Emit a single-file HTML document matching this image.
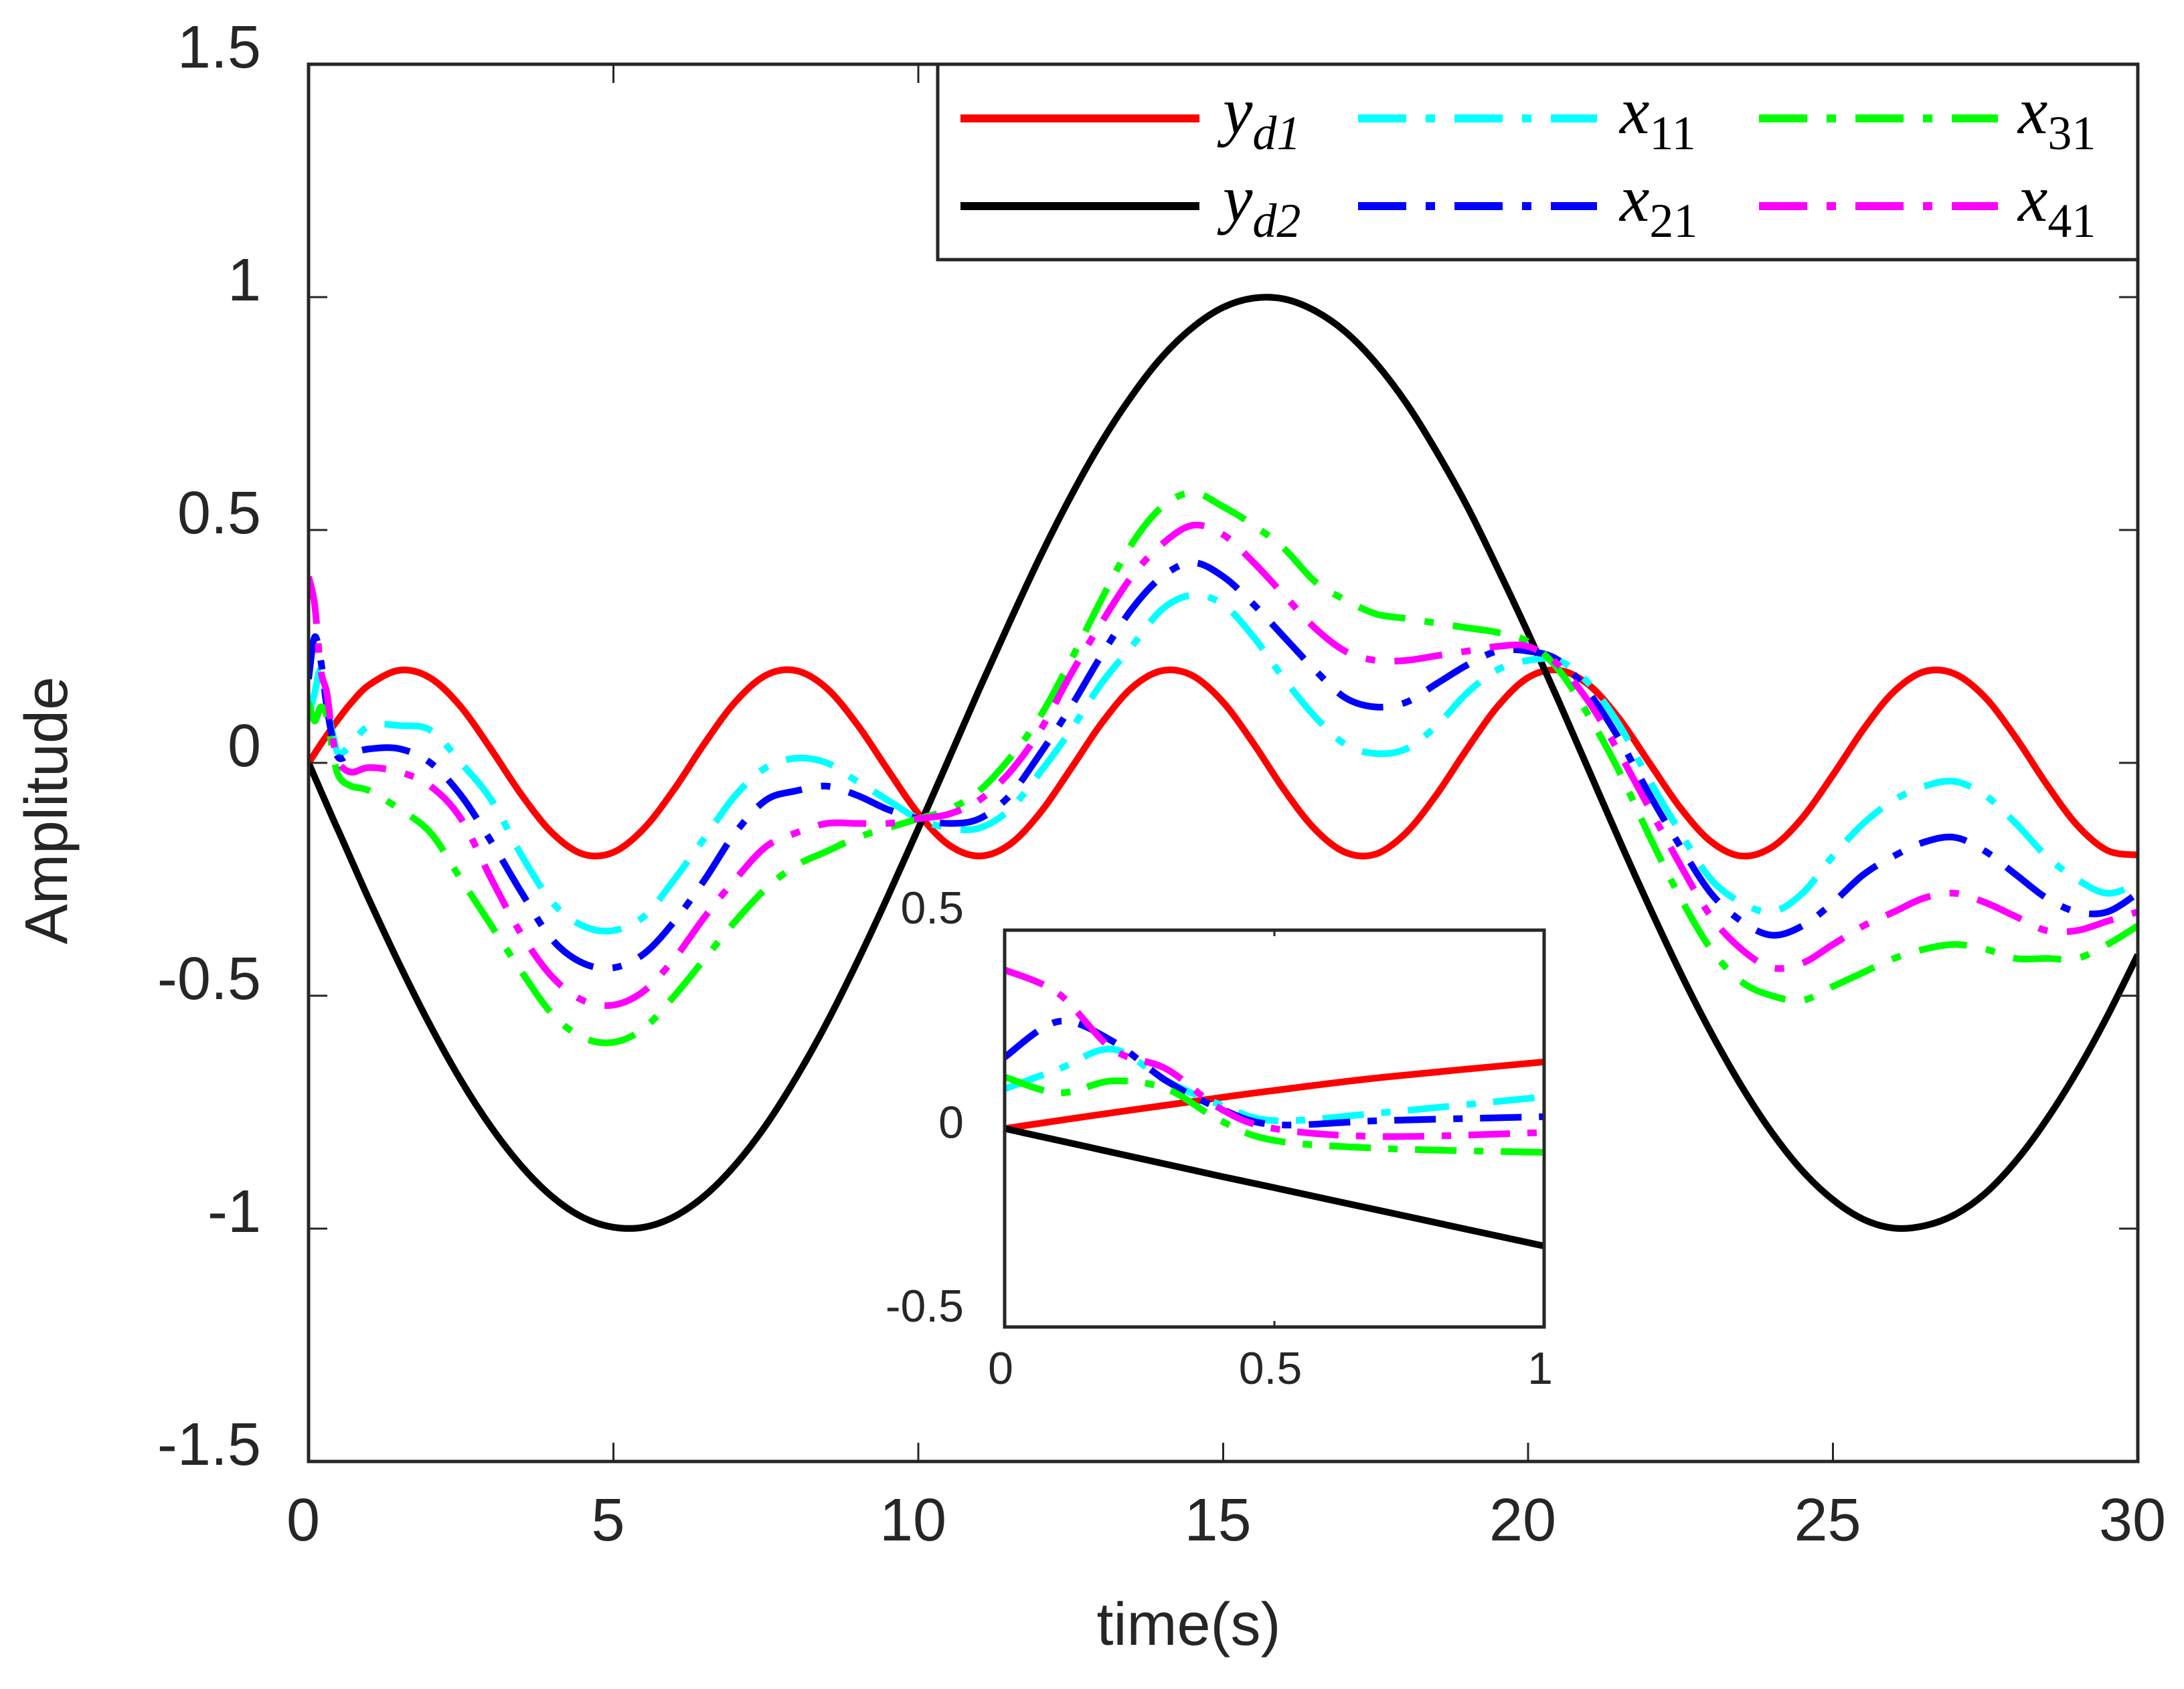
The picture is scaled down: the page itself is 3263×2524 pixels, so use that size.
<!DOCTYPE html>
<html><head><meta charset="utf-8"><style>
html,body{margin:0;padding:0;background:#fff;}
svg{display:block;}
text{font-family:"Liberation Sans",sans-serif;fill:#262626;}
.math{font-family:"Liberation Serif",serif;font-style:italic;fill:#000;}
.sub{font-family:"Liberation Serif",serif;font-style:normal;fill:#000;}
</style></head><body>
<svg id="chart" width="3263" height="2524" viewBox="0 0 3263 2524">
<defs>
<clipPath id="mainClip"><rect x="461" y="96" width="2733" height="2088"/></clipPath>
<clipPath id="insetClip"><rect x="1501" y="1390" width="806" height="593"/></clipPath>
</defs>
<g id="mainAxes"></g>
<g id="inset"></g>
<g id="legend"></g>
</svg>
<script>
const times=[0,0.1,0.2,0.3,0.4,0.5,0.7,1,1.5,2,2.5,3,3.5,4,4.5,5,5.5,6,6.5,7,7.5,8,8.5,9,9.5,10,10.5,11,11.5,12,12.5,13,13.5,14,14.5,15,15.5,16,16.5,17,17.5,18,18.5,19,19.5,20,20.5,21,21.5,22,22.5,23,23.5,24,24.5,25,25.5,26,26.5,27,27.5,28,28.5,29,29.5,30];
const yd1=[0,.020,.040,.059,.078,.096,.129,.168,.199,.182,.120,.028,-.070,-.151,-.196,-.192,-.141,-.056,.043,.131,.188,.198,.160,.082,-.015,-.109,-.176,-.200,-.175,-.107,-.013,.084,.161,.198,.187,.130,.041,-.058,-.142,-.192,-.196,-.150,-.068,.030,.121,.183,.199,.167,.094,-.002,-.097,-.169,-.200,-.181,-.118,-.026,.072,.153,.196,.191,.140,.054,-.045,-.133,-.188,-.198];
const yd2=[0,-.030,-.060,-.090,-.120,-.149,-.208,-.296,-.435,-.565,-.682,-.783,-.867,-.932,-.976,-.997,-.997,-.974,-.929,-.863,-.778,-.675,-.558,-.427,-.287,-.141,.008,.158,.303,.443,.572,.688,.788,.872,.935,.978,.998,.996,.971,.926,.859,.773,.668,.551,.418,.279,.133,-.017,-.167,-.312,-.451,-.579,-.694,-.794,-.876,-.938,-.980,-.999,-.994,-.970,-.924,-.855,-.767,-.663,-.544,-.412];
const x11=[.1,.15,.2,.12,.06,.02,.04,.08,.08,.07,0,-.08,-.2,-.3,-.35,-.36,-.33,-.25,-.16,-.07,-.01,.01,0,-.04,-.08,-.12,-.14,-.14,-.1,-.02,.07,.17,.25,.33,.36,.34,.27,.18,.1,.04,.02,.03,.08,.15,.2,.22,.22,.17,.08,-.04,-.15,-.25,-.3,-.32,-.28,-.2,-.13,-.08,-.05,-.04,-.07,-.13,-.2,-.25,-.28,-.26];
const x21=[.18,.27,.22,.12,.05,.01,.02,.03,.03,0,-.07,-.17,-.28,-.38,-.43,-.44,-.41,-.34,-.25,-.15,-.08,-.06,-.05,-.07,-.1,-.12,-.13,-.12,-.07,.02,.12,.23,.33,.4,.43,.4,.34,.27,.2,.14,.12,.13,.17,.21,.24,.24,.22,.15,.05,-.07,-.18,-.28,-.34,-.37,-.35,-.3,-.24,-.2,-.17,-.16,-.19,-.24,-.29,-.32,-.32,-.28];
const x31=[.13,.09,.12,.1,.02,-.03,-.05,-.06,-.1,-.15,-.25,-.35,-.45,-.54,-.59,-.6,-.57,-.5,-.42,-.34,-.27,-.22,-.19,-.16,-.14,-.12,-.1,-.06,.01,.1,.22,.35,.47,.55,.58,.55,.51,.46,.39,.35,.32,.31,.3,.29,.28,.26,.2,.1,-.02,-.16,-.29,-.4,-.47,-.5,-.51,-.48,-.45,-.42,-.4,-.39,-.4,-.42,-.42,-.42,-.39,-.35];
const x41=[.4,.34,.2,.15,.05,0,-.02,-.01,-.02,-.05,-.12,-.25,-.37,-.46,-.51,-.52,-.49,-.42,-.33,-.25,-.18,-.15,-.13,-.13,-.13,-.12,-.11,-.08,-.02,.07,.19,.3,.4,.47,.51,.49,.43,.36,.29,.24,.22,.22,.23,.24,.25,.25,.21,.13,.02,-.1,-.22,-.33,-.4,-.44,-.43,-.39,-.35,-.32,-.29,-.28,-.3,-.33,-.36,-.36,-.34,-.32];
const xTicks=[0,5,10,15,20,25,30];
const yTicks=[-1.5,-1,-0.5,0,0.5,1,1.5];
const insetXTicks=[0,0.5,1];
const insetYTicks=[-0.5,0,0.5];

const NS="http://www.w3.org/2000/svg";
function mk(tag,attrs,parent){const e=document.createElementNS(NS,tag);for(const k in attrs)e.setAttribute(k,attrs[k]);parent.appendChild(e);return e;}
function pathFrom(xs,ys,sx,sy,xmax){
  const pts=[];for(let i=0;i<xs.length;i++){if(xs[i]<=xmax+1e-9)pts.push([sx(xs[i]),sy(ys[i])]);}
  let d="M"+pts[0][0]+","+pts[0][1];
  for(let i=0;i<pts.length-1;i++){
    const p0=pts[Math.max(0,i-1)],p1=pts[i],p2=pts[i+1],p3=pts[Math.min(pts.length-1,i+2)];
    const c1=[p1[0]+(p2[0]-p0[0])/6,p1[1]+(p2[1]-p0[1])/6];
    const c2=[p2[0]-(p3[0]-p1[0])/6,p2[1]-(p3[1]-p1[1])/6];
    d+=" C"+c1[0].toFixed(1)+","+c1[1].toFixed(1)+" "+c2[0].toFixed(1)+","+c2[1].toFixed(1)+" "+p2[0].toFixed(1)+","+p2[1].toFixed(1);
  }
  return d;
}
const series=[
 {name:"yd1-line",ys:yd1,color:"#ff0000",dash:null},
 {name:"yd2-line",ys:yd2,color:"#000000",dash:null},
 {name:"x11-line",ys:x11,color:"#00ffff",dash:"72 29 14 29"},
 {name:"x21-line",ys:x21,color:"#0000ff",dash:"72 29 14 29"},
 {name:"x31-line",ys:x31,color:"#00ff00",dash:"72 29 14 29"},
 {name:"x41-line",ys:x41,color:"#ff00ff",dash:"72 29 14 29"}
];
const drawOrder=[0,1,2,3,4,5];

const M={L:461,R:3194,T:96,B:2184};
const sx=t=>M.L+(t-0)/30*(M.R-M.L);
const sy=v=>M.B-(v+1.5)/3*(M.B-M.T);
const g=document.getElementById("mainAxes");
const lines=mk("g",{"clip-path":"url(#mainClip)"},g);


for(const i of drawOrder){const s=series[i];
  const p=mk("path",{d:pathFrom(times,s.ys,sx,sy,30),fill:"none",stroke:s.color,"stroke-width":10,"stroke-linejoin":"round"},lines);
  if(s.dash)p.setAttribute("stroke-dasharray",s.dash);
  
  
}
const frame=mk("rect",{x:M.L,y:M.T,width:M.R-M.L,height:M.B-M.T,fill:"none",stroke:"#262626","stroke-width":5},g);


for(const t of xTicks){
  mk("line",{x1:sx(t),x2:sx(t),y1:M.B,y2:M.B-28,stroke:"#262626","stroke-width":3},g);
  mk("line",{x1:sx(t),x2:sx(t),y1:M.T,y2:M.T+28,stroke:"#262626","stroke-width":3},g);
  const tx=mk("text",{x:sx(t)-8,y:2302,"font-size":90,"text-anchor":"middle"},g);tx.textContent=t;
  
  
}
for(const v of yTicks){
  mk("line",{x1:M.L,x2:M.L+28,y1:sy(v),y2:sy(v),stroke:"#262626","stroke-width":3},g);
  mk("line",{x1:M.R,x2:M.R-28,y1:sy(v),y2:sy(v),stroke:"#262626","stroke-width":3},g);
  const tx=mk("text",{x:390,y:sy(v)+5,"font-size":90,"text-anchor":"end"},g);tx.textContent=v;
  
  
}
const xl=mk("text",{x:1776,y:2458,"font-size":90,"text-anchor":"middle"},g);xl.textContent="time(s)";


const yl=mk("text",{x:0,y:0,"font-size":90,"text-anchor":"middle",transform:"translate(100,1211) rotate(-90)"},g);yl.textContent="Amplitude";



const lg=document.getElementById("legend");
const lbox=mk("rect",{x:1401,y:96,width:1793,height:292,fill:"#fff",stroke:"#262626","stroke-width":5},lg);


const legPos=[[1435,177,1827,"y","d1"],[1435,308,1827,"y","d2"],[2029,177,2420,"x","11"],[2029,308,2420,"x","21"],[2628,177,3015,"x","31"],[2628,308,3015,"x","41"]];
for(let i=0;i<6;i++){const s=series[i],p=legPos[i];
  const e=mk("g",{},lg);
  
  
  const ln=mk("line",{x1:p[0],x2:p[0]+357,y1:p[1],y2:p[1],stroke:s.color,"stroke-width":12},e);
  if(s.dash)ln.setAttribute("stroke-dasharray",s.dash);
  const tx=mk("text",{x:p[2],y:p[1]+22,"font-size":100,"class":"math"},e);
  tx.textContent=p[3];
  const sb=mk("tspan",{dy:24,"font-size":72,"class":p[3]==="y"?"math":"sub"},tx);sb.textContent=p[4];
}

const I={L:1501,R:2307,T:1390,B:1983};
const ix=t=>I.L+t*(I.R-I.L);
const iy=v=>I.B-(v+0.5)*(I.B-I.T);
const ig=document.getElementById("inset");
const ibg=mk("rect",{x:I.L,y:I.T,width:I.R-I.L,height:I.B-I.T,fill:"#fff"},ig);


const il=mk("g",{"clip-path":"url(#insetClip)"},ig);


for(const i of [0,1,2,3,5,4]){const s=series[i];
  const p=mk("path",{d:pathFrom(times,s.ys,ix,iy,1),fill:"none",stroke:s.color,"stroke-width":10,"stroke-linejoin":"round"},il);
  if(s.dash)p.setAttribute("stroke-dasharray","62 26 14 26");
  
  
}
const iframe=mk("rect",{x:I.L,y:I.T,width:I.R-I.L,height:I.B-I.T,fill:"none",stroke:"#262626","stroke-width":5},ig);


for(const t of insetXTicks){
  mk("line",{x1:ix(t),x2:ix(t),y1:I.B,y2:I.B-9,stroke:"#262626","stroke-width":3},ig);
  mk("line",{x1:ix(t),x2:ix(t),y1:I.T,y2:I.T+9,stroke:"#262626","stroke-width":3},ig);
  const tx=mk("text",{x:ix(t)-6,y:2068,"font-size":68,"text-anchor":"middle"},ig);tx.textContent=t;
  
  
}
for(const v of insetYTicks){
  const tx=mk("text",{x:1440,y:iy(v)+(v===0.5?-10:(v===-0.5?-8:14)),"font-size":68,"text-anchor":"end"},ig);tx.textContent=v;
  
  
}
</script>
</body></html>
